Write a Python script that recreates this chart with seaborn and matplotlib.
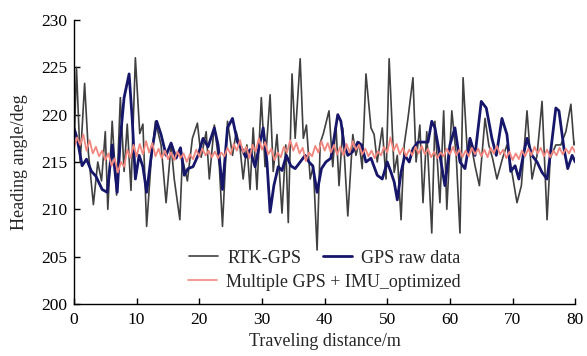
import numpy as np
import pandas as pd
import matplotlib
matplotlib.use("Agg")
import matplotlib.pyplot as plt
import seaborn as sns
from matplotlib.lines import Line2D

# 1. datos (rumbo en grados frente a distancia en m)
rtk_x = [0, 0.4, 1.0, 1.7, 2.3, 3.1, 3.8, 4.4, 5.0, 5.4, 6.1, 6.8, 7.4, 8.0, 8.5, 9.1, 9.8, 10.5, 11.0, 11.6, 12.3, 13.0,
         13.9, 14.7, 15.5, 16.0, 16.9, 17.3, 18.1, 18.9, 19.7, 20.3, 21.1, 21.6, 22.4, 23.2, 23.7, 24.5, 25.3, 25.9, 26.5,
         27.0, 27.6, 28.1, 28.6, 29.2, 29.9, 30.5, 31.3, 31.8, 32.4, 33.2, 33.8, 34.2, 34.8, 35.3, 36.1, 36.6, 37.1, 37.7, 38.2, 38.8, 39.3, 39.8,
         40.7, 41.3, 41.8, 42.3, 42.9, 43.7, 44.5, 45.0, 45.5, 46.0, 46.6, 47.4, 47.9, 48.4, 49.2, 49.8, 50.3, 51.1, 51.6, 52.2, 52.7, 53.3,
         54.1, 54.6, 55.2, 55.7, 56.3, 57.1, 57.6, 58.4, 59.0, 59.5, 60.3, 61.0, 61.6, 62.1, 62.8, 63.4, 64.0, 64.7, 65.6, 66.2, 66.8,
         67.5, 68.4, 69.1, 69.9, 70.7, 71.4, 72.3, 73.1, 73.9, 74.7, 75.5, 76.0, 76.9, 77.7, 78.5, 79.3, 79.8, 80.0]
rtk_y = [216.0, 225.0, 215.0, 223.3, 216.0, 210.5, 215.0, 213.0, 218.2, 210.0, 219.3, 211.5, 221.8, 214.0, 219.0, 212.0, 226.0, 218.0, 219.0, 208.2, 215.0, 219.3,
         216.8, 210.7, 216.8, 213.2, 208.9, 215.4, 213.0, 217.5, 219.1, 215.5, 218.2, 213.2, 218.9, 214.6, 208.2, 219.3, 215.7, 218.2, 216.5,
         213.2, 216.8, 212.1, 218.6, 212.1, 221.8, 214.5, 222.1, 214.0, 217.9, 209.6, 216.8, 208.6, 224.3, 217.5, 225.9, 217.5, 218.9, 213.2, 214.6, 205.7, 217.0, 218.0,
         220.4, 214.5, 219.0, 212.5, 218.6, 209.3, 217.9, 215.7, 217.1, 214.3, 224.3, 218.6, 217.9, 215.0, 218.6, 213.2, 225.9, 213.9, 215.7, 208.9, 216.8, 219.6,
         223.9, 215.0, 218.9, 210.7, 218.2, 207.5, 219.3, 210.7, 220.4, 210.0, 220.4, 215.7, 207.5, 223.9, 215.7, 216.8, 214.6, 212.5, 219.6, 216.8, 215.4,
         213.2, 215.4, 216.8, 213.9, 210.7, 212.5, 220.4, 213.2, 215.7, 221.4, 208.9, 215.4, 216.8, 216.8, 218.2, 221.1, 216.8, 217.1]

raw_x = [0, 0.5, 1.3, 2.0, 2.8, 3.5, 4.5, 5.3, 6.1, 6.9, 7.4, 8.0, 8.8, 9.3, 9.8, 10.4, 11.0, 11.6, 12.4, 13.2,
         13.9, 14.7, 15.5, 16.3, 17.0, 17.6, 18.2, 19.0, 19.8, 20.6, 21.4, 22.4, 23.0, 23.7, 24.5, 25.3, 26.1, 26.8,
         27.4, 28.1, 28.9, 29.6, 30.2, 30.8, 31.3, 31.9, 32.6, 33.2, 33.9, 34.6, 35.3, 36.1, 36.9, 37.5, 38.1, 38.8, 39.5, 40.2,
         41.0, 42.1, 42.6, 43.1, 43.7, 44.5, 45.3, 45.9, 46.6, 47.4, 48.4, 49.2, 50.0, 50.6, 51.1, 51.6, 52.2, 52.8, 53.5,
         54.1, 54.9, 55.7, 56.5, 57.1, 57.6, 58.4, 59.2, 60.0, 60.8, 61.6, 62.4, 63.2, 64.0, 65.0, 65.8, 66.7,
         67.4, 68.3, 69.1, 69.7, 70.4, 71.0, 71.7, 72.3, 73.1, 73.9, 74.7, 75.5, 76.0, 76.9, 77.4, 78.2, 78.8, 79.5, 80.0]
raw_y = [218.6, 217.5, 214.6, 215.3, 214.0, 213.5, 212.1, 211.8, 216.8, 211.8, 217.5, 221.8, 224.3, 219.5, 213.2, 215.7, 214.5, 211.8, 216.0, 219.3,
         217.9, 215.7, 217.0, 215.4, 216.5, 213.6, 214.3, 214.5, 215.7, 217.5, 216.6, 218.6, 216.8, 212.1, 218.6, 219.6, 217.1, 216.4,
         215.5, 216.3, 214.5, 216.8, 218.6, 215.0, 209.7, 212.5, 214.5, 214.1, 215.7, 214.6, 214.3, 215.0, 215.7, 215.0, 214.6, 211.8, 214.3, 215.0,
         215.4, 220.0, 219.3, 216.8, 215.7, 216.1, 217.1, 216.8, 215.0, 215.4, 213.6, 213.2, 215.0, 213.9, 212.9, 211.0, 213.9, 215.7, 215.0,
         216.4, 217.1, 217.1, 217.1, 219.3, 218.6, 215.7, 212.5, 216.8, 218.6, 215.0, 214.3, 217.5, 215.7, 221.4, 220.7, 217.5,
         215.7, 219.6, 217.9, 214.0, 214.6, 213.2, 215.7, 217.5, 215.7, 215.0, 213.9, 213.2, 215.7, 220.7, 220.4, 216.4, 214.3, 215.7, 215.0]

# la curva optimizada esta leida cada 0.5 m
opt_x = [i * 0.5 for i in range(161)]
opt_y = [216.5, 217.6, 216.8, 217.9, 216.2, 217.3, 215.9, 216.6, 215.6, 216.2,
         215.2, 215.9, 214.6, 215.4, 213.9, 215.0, 214.5, 216.3, 215.4, 216.8,
         215.6, 216.9, 215.8, 217.2, 216.0, 217.0, 215.6, 216.4, 215.4, 216.2,
         215.3, 216.0, 215.2, 216.1, 215.4, 215.9, 215.0, 215.8, 215.3, 216.3,
         215.6, 216.4, 215.7, 216.2, 215.5, 216.1, 215.4, 216.0, 215.6, 216.5,
         215.8, 216.9, 216.2, 217.3, 216.0, 216.6, 215.4, 216.8, 216.1, 217.5,
         216.3, 217.1, 215.8, 216.4, 215.2, 216.0, 215.5, 216.6, 216.0, 217.3,
         216.2, 217.0, 215.9, 216.5, 215.1, 216.0, 215.6, 216.7, 216.0, 217.2,
         216.2, 217.0, 216.0, 216.8, 215.8, 216.6, 215.7, 216.9, 216.0, 217.2,
         216.3, 216.8, 215.8, 216.4, 215.6, 216.2, 215.4, 216.1, 215.7, 216.6,
         216.0, 217.6, 216.2, 216.9, 215.8, 216.5, 215.6, 216.3, 215.7, 216.6,
         215.9, 216.7, 215.8, 216.4, 215.5, 216.1, 215.4, 216.0, 215.6, 216.4,
         215.8, 216.6, 215.7, 216.3, 215.5, 216.2, 215.6, 216.5, 215.8, 216.4,
         215.6, 216.3, 215.5, 216.5, 215.9, 216.7, 215.8, 216.3, 215.4, 216.1,
         215.2, 215.9, 215.3, 216.2, 215.6, 216.4, 215.7, 216.6, 215.9, 216.5,
         215.6, 216.3, 215.5, 216.2, 215.7, 216.5, 215.8, 216.4, 215.9, 216.6,
         216.0]

labels = ["RTK-GPS", "GPS raw data", "Multiple GPS + IMU_optimized"]
colores = ["#404040", "#16166a", "#f2877f"]

# 2. estilo
sns.set_style("ticks")
plt.rcParams["font.family"] = ["Liberation Serif", "DejaVu Serif"]

fig = plt.figure(figsize=(5.87, 3.56), dpi=100)
ax = fig.add_axes([0.126, 0.146, 0.854, 0.798])

# 3. las tres curvas
sns.lineplot(x=rtk_x, y=rtk_y, ax=ax, color=colores[0], linewidth=1.2, sort=False)
sns.lineplot(x=raw_x, y=raw_y, ax=ax, color=colores[1], linewidth=2.0, sort=False)
sns.lineplot(x=opt_x, y=opt_y, ax=ax, color=colores[2], linewidth=1.3, sort=False)

ax.set_xlim(0, 80)
ax.set_ylim(200, 230)
ax.set_xticks(range(0, 81, 10))
ax.set_yticks(range(200, 231, 5))
ax.tick_params(labelsize=12.5, direction="in", length=4, width=1, colors="black")
ax.tick_params(axis="x", pad=6)
ax.tick_params(axis="y", pad=5)
ax.set_xlabel("Traveling distance/m", fontsize=13, labelpad=3)
ax.set_ylabel("Heading angle/deg", fontsize=13, labelpad=9)
sns.despine(ax=ax)
for s in ["left", "bottom"]:
    ax.spines[s].set_color("black")
    ax.spines[s].set_linewidth(1.0)

# 4. leyenda en dos filas, sin marco
h = [Line2D([], [], color=c, linewidth=1.2) for c in colores]
h[1].set_linewidth(2.0)
leg1 = ax.legend(h[:2], labels[:2], ncol=2, loc="center", bbox_to_anchor=(0.5, 0.162),
                 frameon=False, fontsize=13, handlelength=1.6, columnspacing=1.2,
                 handletextpad=0.5, borderpad=0)
ax.add_artist(leg1)
ax.legend(h[2:], labels[2:], loc="center", bbox_to_anchor=(0.5, 0.077),
          frameon=False, fontsize=13, handlelength=1.6, handletextpad=0.5, borderpad=0)

plt.savefig("out.png", dpi=100)
